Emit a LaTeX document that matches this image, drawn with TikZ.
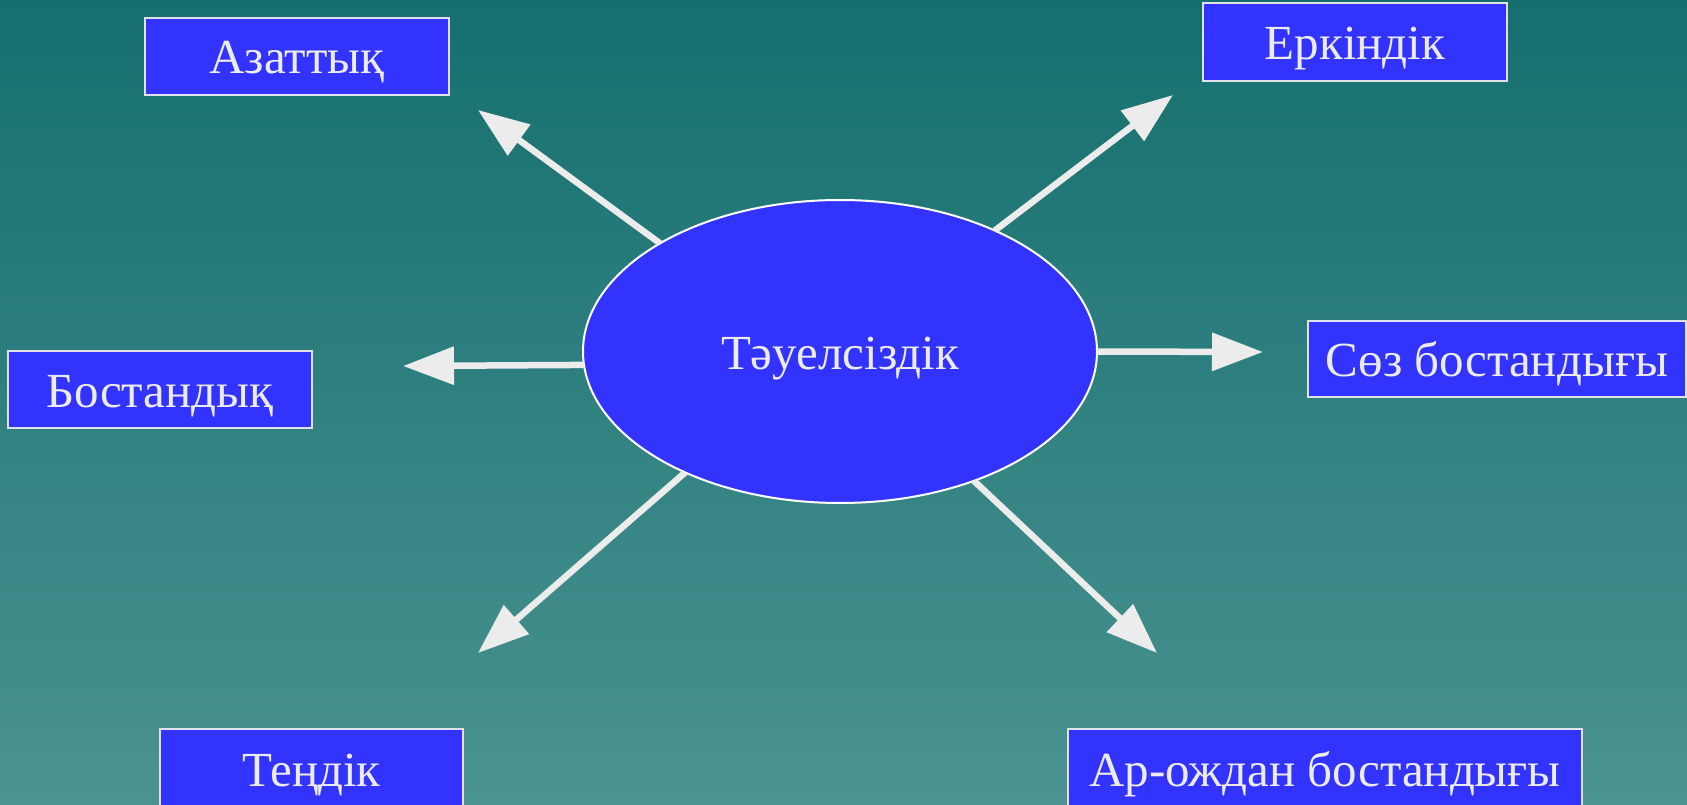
\documentclass[tikz,border=0pt]{standalone}
\usepackage{fontspec}
\setmainfont{Liberation Serif}
\usetikzlibrary{arrows.meta,shapes.geometric}
\definecolor{bgtop}{RGB}{21,111,110}
\definecolor{bgbot}{RGB}{74,147,146}
\definecolor{boxblue}{RGB}{51,51,255}
\definecolor{txt}{RGB}{236,236,236}
\definecolor{edge}{RGB}{225,225,232}
\tikzset{
  lbl/.style={rectangle, draw=edge, line width=2pt, fill=boxblue, text=txt,
    font=\fontsize{49}{58}\selectfont, inner sep=0pt, outer sep=0pt,
    text height=40pt, text depth=5pt},
  centre/.style={ellipse, draw=white, line width=2pt, fill=boxblue, text=txt,
    font=\fontsize{49}{58}\selectfont, inner sep=0pt, outer sep=0pt,
    text height=40pt, text depth=5pt,
    minimum width=514pt, minimum height=303pt},
  arr/.style={draw=txt, line width=6.5pt, -{Triangle[length=51pt,width=37pt]}}
}
\begin{document}
\begin{tikzpicture}[x=1pt,y=-1pt]
\shade[top color=bgtop, bottom color=bgbot] (0,0) rectangle (1687,805);
\useasboundingbox (0,0) rectangle (1687,805);
\node[lbl, minimum width=304pt, minimum height=77pt] (azat) at (297,56.5) {Азаттық};
\node[lbl, minimum width=304pt, minimum height=78pt] (erk) at (1355,42) {Еркіндік};
\node[lbl, minimum width=304pt, minimum height=77pt] (bost) at (160,389.5) {Бостандық};
\node[lbl, minimum width=378pt, minimum height=76pt] (soz) at (1497,359) {Сөз бостандығы};
\node[lbl, minimum width=303pt, minimum height=80pt] (ten) at (311.5,769) {Теңдік};
\node[lbl, minimum width=514pt, minimum height=80pt] (ar) at (1325,769) {Ар-ождан бостандығы};
\node[centre] (e) at (840,351.5) {Тәуелсіздік};
\coordinate (tUL) at (478,110);
\coordinate (tUR) at (1173,95);
\coordinate (tL) at (403,366);
\coordinate (tR) at (1263,352);
\coordinate (tLL) at (478,653);
\coordinate (tLR) at (1157,653);
\draw[arr] (e.149.7) -- (tUL);
\draw[arr] (e.38.4) -- (tUR);
\draw[arr] (e.183.2) -- (tL);
\draw[arr] (e.0) -- (tR);
\draw[arr] (e.218.5) -- (tLL);
\draw[arr] (e.-44.7) -- (tLR);
\end{tikzpicture}
\end{document}
